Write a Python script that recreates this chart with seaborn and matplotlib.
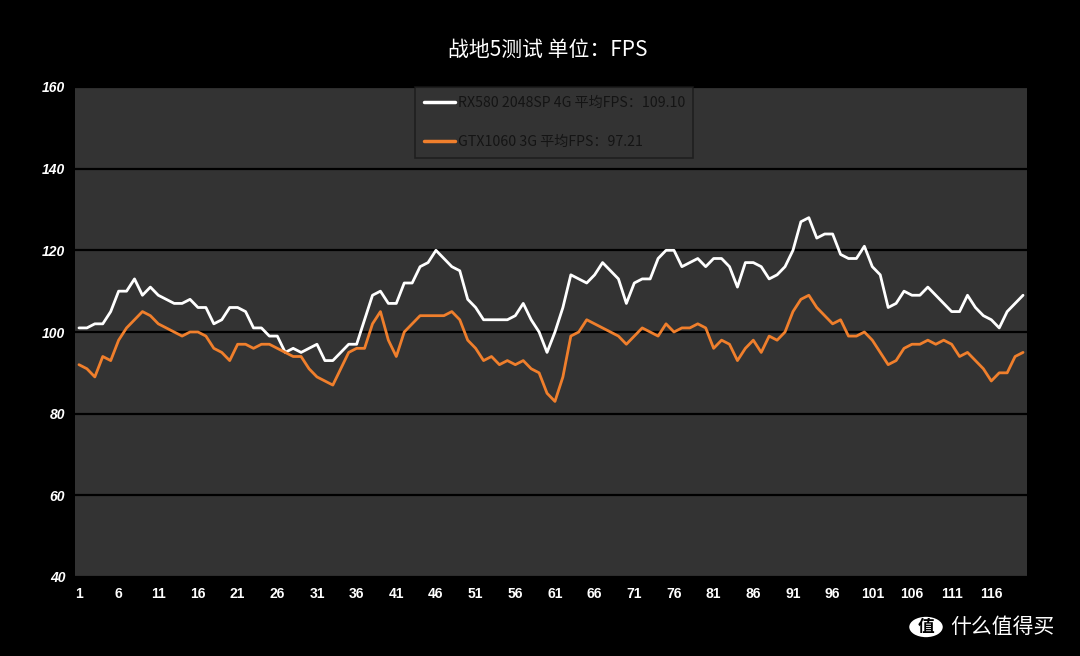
import numpy as np
import pandas as pd
import matplotlib
matplotlib.use("Agg")
import matplotlib.pyplot as plt
import seaborn as sns

# ---- data ----
frames = list(range(1, 121))
rx580 = [101, 101, 102, 102, 105, 110, 110, 113, 109, 111,
         109, 108, 107, 107, 108, 106, 106, 102, 103, 106,
         106, 105, 101, 101, 99, 99, 95, 96, 95, 96,
         97, 93, 93, 95, 97, 97, 103, 109, 110, 107,
         107, 112, 112, 116, 117, 120, 118, 116, 115, 108,
         106, 103, 103, 103, 103, 104, 107, 103, 100, 95,
         100, 106, 114, 113, 112, 114, 117, 115, 113, 107,
         112, 113, 113, 118, 120, 120, 116, 117, 118, 116,
         118, 118, 116, 111, 117, 117, 116, 113, 114, 116,
         120, 127, 128, 123, 124, 124, 119, 118, 118, 121,
         116, 114, 106, 107, 110, 109, 109, 111, 109, 107,
         105, 105, 109, 106, 104, 103, 101, 105, 107, 109]
gtx1060 = [92, 91, 89, 94, 93, 98, 101, 103, 105, 104,
           102, 101, 100, 99, 100, 100, 99, 96, 95, 93,
           97, 97, 96, 97, 97, 96, 95, 94, 94, 91,
           89, 88, 87, 91, 95, 96, 96, 102, 105, 98,
           94, 100, 102, 104, 104, 104, 104, 105, 103, 98,
           96, 93, 94, 92, 93, 92, 93, 91, 90, 85,
           83, 89, 99, 100, 103, 102, 101, 100, 99, 97,
           99, 101, 100, 99, 102, 100, 101, 101, 102, 101,
           96, 98, 97, 93, 96, 98, 95, 99, 98, 100,
           105, 108, 109, 106, 104, 102, 103, 99, 99, 100,
           98, 95, 92, 93, 96, 97, 97, 98, 97, 98,
           97, 94, 95, 93, 91, 88, 90, 90, 94, 95]
series_names = ["RX580 2048SP 4G 平均FPS：109.10", "GTX1060 3G 平均FPS：97.21"]
series_colors = ["#ffffff", "#f07f2c"]
x_ticks = list(range(1, 121, 5))
y_ticks = [40, 60, 80, 100, 120, 140, 160]
title = "战地5测试 单位：FPS"

df = pd.DataFrame({
    "frame": frames * 2,
    "fps": rx580 + gtx1060,
    "series": [series_names[0]] * len(frames) + [series_names[1]] * len(frames),
})

sns.set_theme(style="dark")
plt.rcParams["font.family"] = ["Noto Sans CJK SC", "DejaVu Sans"]

fig = plt.figure(figsize=(10.8, 6.56), dpi=100, facecolor="black")
ax = fig.add_axes([75 / 1080, 1 - 577 / 656, 952 / 1080, 490 / 656])
ax.set_facecolor("#333333")

sns.lineplot(data=df, x="frame", y="fps", hue="series", palette=series_colors,
             hue_order=series_names, linewidth=2.0, ax=ax, legend=True)

ax.set_xlim(0.5, 120.5)
ax.set_ylim(40, 160)
ax.set_yticks(y_ticks)
ax.set_xticks(x_ticks)
ax.grid(axis="y", color="black", linewidth=1.6)
ax.grid(axis="x", visible=False)
ax.set_axisbelow(True)
for s in ax.spines.values():
    s.set_visible(False)
ax.set_xlabel("")
ax.set_ylabel("")
ax.tick_params(axis="both", length=0, colors="white")
ax.tick_params(axis="x", pad=7)
ax.tick_params(axis="y", pad=7)
for lab in ax.get_xticklabels():
    lab.set_fontfamily("Liberation Sans")
    lab.set_fontweight("bold")
    lab.set_fontsize(10)
    lab.set_color("white")
for lab in ax.get_yticklabels():
    lab.set_fontfamily("Liberation Sans")
    lab.set_fontweight("bold")
    lab.set_fontstyle("italic")
    lab.set_fontsize(10)
    lab.set_color("white")

leg = ax.legend(loc="upper left", bbox_to_anchor=((415 - 75) / 952, 1.0),
                frameon=True, fontsize=10.2, handlelength=2.2, handletextpad=0.2,
                labelspacing=1.8, borderpad=0.6, borderaxespad=0.0,
                fancybox=False)
leg.get_frame().set_facecolor("#333333")
leg.get_frame().set_edgecolor("#1a1a1a")
leg.get_frame().set_linewidth(1.2)
for t in leg.get_texts():
    t.set_color("#141414")
for h in leg.get_lines():
    h.set_linewidth(2.5)

fig.text(548 / 1080, 1 - 50 / 656, title, color="white", fontsize=15,
         ha="center", va="center")

# watermark
fig.patches.append(matplotlib.patches.Circle((926 / 1080, 1 - 627 / 656), 0.0155,
                                             transform=fig.transFigure,
                                             facecolor="white", edgecolor="none"))
fig.text(926 / 1080, 1 - 627 / 656, "值", color="black", fontsize=12,
         ha="center", va="center", fontweight="bold")
fig.text(950 / 1080, 1 - 627 / 656, "什么值得买", color="white", fontsize=15,
         ha="left", va="center")

fig.savefig("out.png", dpi=100, facecolor="black")
